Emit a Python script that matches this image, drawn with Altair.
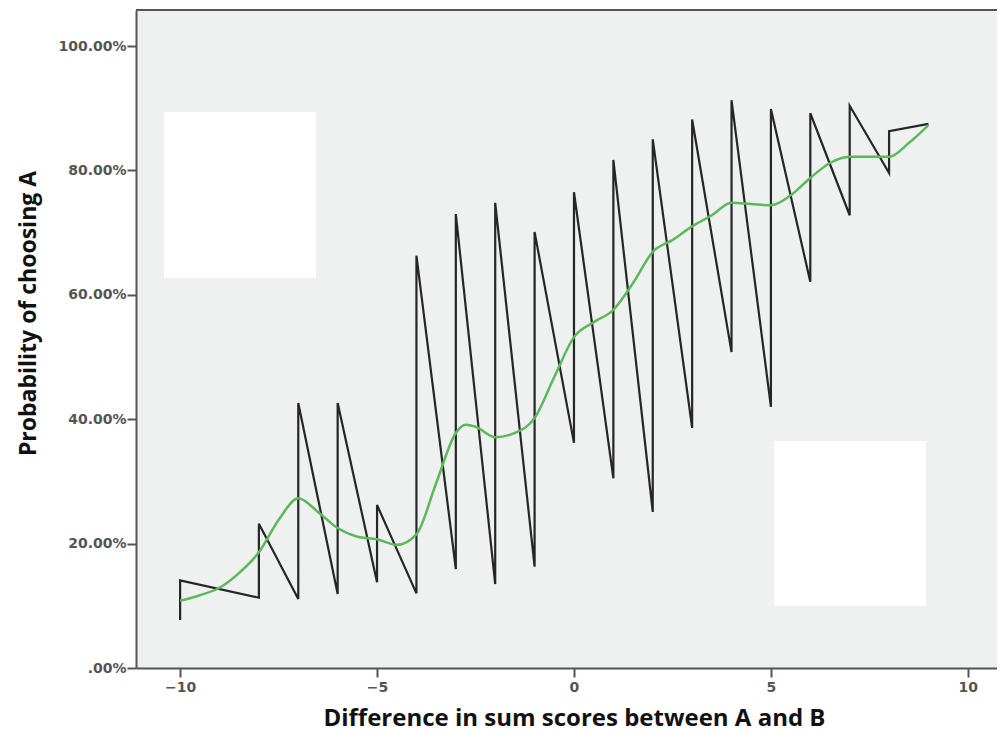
import altair as alt
import pandas as pd

# Black zigzag line (observed points, in drawing order)
zig_x = [-10, -10, -8, -8, -7, -7, -6, -6, -5, -5, -4, -4, -3, -3, -2, -2, -1, -1,
         0, 0, 1, 1, 2, 2, 3, 3, 4, 4, 5, 5, 6, 6, 7, 7, 8, 8, 9]
zig_y = [7.7, 14.1, 11.3, 23.2, 11.1, 42.6, 11.9, 42.6, 13.8, 26.2, 12.0, 66.3,
         15.9, 73.0, 13.5, 74.8, 16.3, 70.1, 36.2, 76.5, 30.5, 81.7, 25.1, 85.0,
         38.6, 88.2, 50.8, 91.3, 42.0, 89.9, 62.1, 89.2, 72.8, 90.4, 79.6, 86.3, 87.5]

# Green smoothed curve
fit_x = [-10, -9.5, -9, -8.5, -8, -7.5, -7, -6.5, -6, -5.5, -5, -4.5, -4, -3.5, -3,
         -2.75, -2.5, -2, -1.5, -1, -0.5, 0, 0.5, 1, 1.5, 2, 2.5, 3, 3.5, 4, 4.5,
         5, 5.5, 6, 6.5, 7, 7.5, 8, 8.5, 9]
fit_y = [10.8, 11.7, 12.9, 15.3, 18.6, 23.8, 27.3, 25.1, 22.5, 21.1, 20.7, 19.8,
         21.5, 29.7, 37.8, 39.1, 38.8, 37.1, 37.8, 40.2, 46.8, 53.2, 55.6, 57.6,
         61.9, 66.9, 68.8, 71.0, 72.8, 74.8, 74.6, 74.4, 76.0, 78.8, 81.2, 82.2,
         82.2, 82.2, 84.4, 87.3]

# White masking boxes present in the picture
box_x1 = [-10.41, 5.08]
box_x2 = [-6.55, 8.93]
box_y1 = [62.7, 10.0]
box_y2 = [89.4, 36.5]

x_ticks = [-10, -5, 0, 5, 10]
y_ticks = [0, 20, 40, 60, 80, 100]

zig = pd.DataFrame({"x": zig_x, "y": zig_y, "order": list(range(len(zig_x)))})
fit = pd.DataFrame({"x": fit_x, "y": fit_y})
boxes = pd.DataFrame({"x1": box_x1, "x2": box_x2, "y1": box_y1, "y2": box_y2})

xscale = alt.Scale(domain=[-11.12, 10.74], nice=False, zero=False)
yscale = alt.Scale(domain=[0, 105.8], nice=False, zero=False)

xaxis = alt.Axis(
    values=x_ticks, title="Difference in sum scores between A and B",
    grid=False, domainColor="#555555", domainWidth=2, tickColor="#555555",
    tickWidth=2, tickSize=9, labelFont="DejaVu Sans", labelFontSize=14,
    labelFontWeight="bold", labelColor="#555555", labelPadding=3,
    titleFont="Open Sans", titleFontSize=24, titleFontWeight="bold",
    titleColor="#111111", titlePadding=12, titleX=438,
)
yaxis = alt.Axis(
    values=y_ticks, title="Probability of choosing A",
    labelExpr="datum.value == 0 ? '.00%' : format(datum.value, '.2f') + '%'",
    grid=False, domainColor="#555555", domainWidth=2, tickColor="#555555",
    tickWidth=2, tickSize=9, labelFont="DejaVu Sans", labelFontSize=14,
    labelFontWeight="bold", labelColor="#555555", labelPadding=1,
    titleFont="Open Sans", titleFontSize=23, titleFontWeight="bold",
    titleColor="#111111", titlePadding=17, titleY=303,
)

rects = alt.Chart(boxes).mark_rect(color="white").encode(
    x=alt.X("x1:Q", scale=xscale, axis=xaxis),
    x2="x2:Q",
    y=alt.Y("y1:Q", scale=yscale, axis=yaxis),
    y2="y2:Q",
)

zigline = alt.Chart(zig).mark_line(color="#262626", strokeWidth=2.2).encode(
    x=alt.X("x:Q", scale=xscale),
    y=alt.Y("y:Q", scale=yscale),
    order="order:Q",
)

fitline = alt.Chart(fit).mark_line(color="#5cb85a", strokeWidth=2.5,
                                   interpolate="monotone").encode(
    x=alt.X("x:Q", scale=xscale),
    y=alt.Y("y:Q", scale=yscale),
)

topline = alt.Chart(boxes).mark_rule(color="#555555", strokeWidth=2).encode(
    y=alt.value(0)
)

chart = alt.layer(rects, zigline, fitline, topline).properties(
    width=861, height=658,
    autosize=alt.AutoSizeParams(type="none"),
    padding={"left": 128, "top": 2, "right": 0, "bottom": 70},
).configure_view(
    fill="#eff0f0", stroke=None
)

chart.save("out.html", embed_options={"renderer": "svg", "actions": False})
